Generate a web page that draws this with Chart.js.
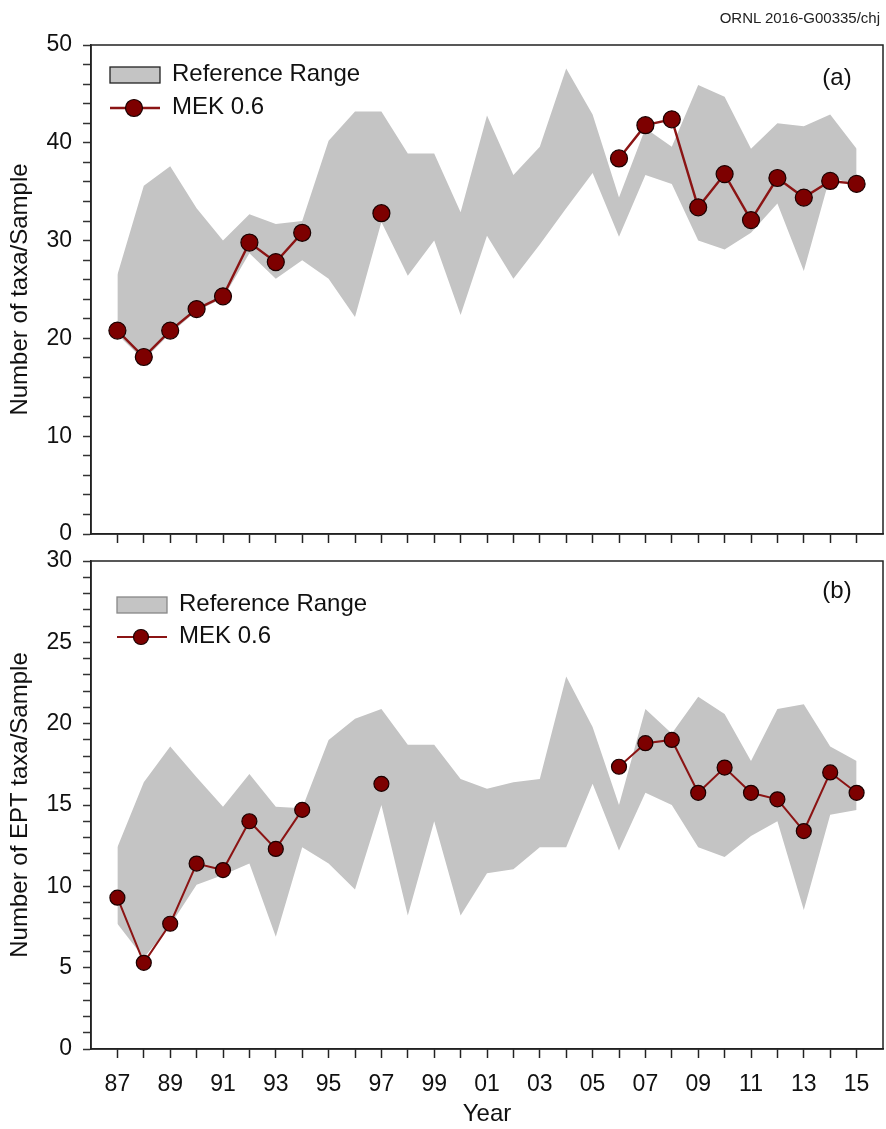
<!DOCTYPE html>
<html>
<head>
<meta charset="utf-8">
<script src="https://cdn.jsdelivr.net/npm/chart.js@4.4.0/dist/chart.umd.min.js"></script>
<style>
  html, body { margin: 0; padding: 0; background: #fff; }
  #wrap { position: relative; width: 886px; height: 1129px; overflow: hidden; }
  #wrap canvas { position: absolute; left: 0; top: 0; }
  #stamp { position: absolute; right: 6px; top: 9px; font: 15px 'Liberation Sans', Arial, sans-serif; color: #222; }
</style>
</head>
<body>
<div id="wrap">
  <canvas id="taxa" width="886" height="1129"></canvas>
  <canvas id="ept" width="886" height="1129"></canvas>
  <div id="stamp">ORNL 2016-G00335/chj</div>
</div>
<script>
Chart.defaults.font.family = "'Liberation Sans', Arial, sans-serif";
Chart.defaults.color = '#111';

// sampling years 1987-2015
var years = [1987, 1988, 1989, 1990, 1991, 1992, 1993, 1994, 1995, 1996,
  1997, 1998, 1999, 2000, 2001, 2002, 2003, 2004, 2005, 2006,
  2007, 2008, 2009, 2010, 2011, 2012, 2013, 2014, 2015];

// (a) number of taxa per sample
var taxaHigh = [26.5, 35.6, 37.6, 33.3, 30.0, 32.7, 31.7, 32.0, 40.2, 43.2,
  43.2, 38.9, 38.9, 32.9, 42.8, 36.7, 39.6, 47.6, 42.9, 34.4,
  41.5, 39.6, 45.9, 44.7, 39.4, 42.0, 41.7, 42.9, 39.4];
var taxaLow = [20.4, 17.8, 20.5, 22.8, 24.1, 28.7, 26.1, 28.0, 26.1, 22.2,
  31.9, 26.4, 30.0, 22.4, 30.5, 26.1, 29.6, 33.3, 36.9, 30.4,
  36.7, 35.8, 30.0, 29.1, 30.8, 33.8, 26.9, 36.6, 35.5];
var taxaMek = [20.8, 18.1, 20.8, 23.0, 24.3, 29.8, 27.8, 30.8, null, null,
  32.8, null, null, null, null, null, null, null, null, 38.4,
  41.8, 42.4, 33.4, 36.8, 32.1, 36.4, 34.4, 36.1, 35.8];

// (b) number of EPT taxa per sample
var eptHigh = [12.4, 16.4, 18.6, 16.7, 14.9, 16.9, 14.9, 14.8, 19.0, 20.3,
  20.9, 18.7, 18.7, 16.6, 16.0, 16.4, 16.6, 22.9, 19.8, 15.0,
  20.9, 19.4, 21.65, 20.6, 17.7, 20.9, 21.2, 18.6, 17.7];
var eptLow = [7.7, 5.6, 7.6, 10.1, 10.7, 11.4, 6.9, 12.4, 11.4, 9.8,
  15.0, 8.2, 14.0, 8.2, 10.8, 11.05, 12.4, 12.4, 16.3, 12.2,
  15.75, 15.0, 12.4, 11.8, 13.1, 14.0, 8.55, 14.4, 14.7];
var eptMek = [9.3, 5.3, 7.7, 11.4, 11.0, 14.0, 12.3, 14.7, null, null,
  16.3, null, null, null, null, null, null, null, null, 17.35,
  18.8, 19.0, 15.75, 17.3, 15.75, 15.35, 13.4, 17.0, 15.75];

// tick labels
var taxaTicks = [0, 10, 20, 30, 40, 50];
var eptTicks = [0, 5, 10, 15, 20, 25, 30];
var yearTicks = [1987, 1989, 1991, 1993, 1995, 1997, 1999, 2001,
  2003, 2005, 2007, 2009, 2011, 2013, 2015];

function pairs(vals){
  return years.map(function(y, i){ return {x: y, y: vals[i]}; });
}

// frame box, legend and panel letter
var panelPlugin = {
  id: 'panel',
  afterDraw: function(chart, args, o){
    var a = chart.chartArea, ctx = chart.ctx;
    var ds = chart.data.datasets;
    ctx.save();
    ctx.strokeStyle = '#222';
    ctx.lineWidth = 1.5;
    ctx.strokeRect(a.left, a.top, a.right - a.left, a.bottom - a.top);

    var lx = a.left + o.x, ly = a.top + o.y;
    ctx.fillStyle = '#c4c4c4';
    ctx.fillRect(lx, ly, 50, 16);
    ctx.strokeStyle = o.boxBorder;
    ctx.lineWidth = 1.3;
    ctx.strokeRect(lx, ly, 50, 16);

    ctx.font = "24px 'Liberation Sans', Arial, sans-serif";
    ctx.fillStyle = '#111';
    ctx.textAlign = 'left';
    ctx.textBaseline = 'middle';
    ctx.fillText(ds[1].label, lx + 62, ly + 7);

    var my = ly + o.gap;
    ctx.strokeStyle = ds[0].borderColor;
    ctx.lineWidth = o.lineW;
    ctx.beginPath();
    ctx.moveTo(lx, my);
    ctx.lineTo(lx + 50, my);
    ctx.stroke();
    ctx.beginPath();
    ctx.arc(lx + 24, my, o.r, 0, Math.PI * 2);
    ctx.fillStyle = ds[0].pointBackgroundColor;
    ctx.fill();
    ctx.strokeStyle = ds[0].pointBorderColor;
    ctx.lineWidth = 1.2;
    ctx.stroke();
    ctx.fillStyle = '#111';
    ctx.fillText(ds[0].label, lx + 62, my - 1);

    ctx.textAlign = 'center';
    ctx.fillText(o.letter, a.right - 46, a.top + o.letterY);
    ctx.restore();
  }
};

function hideEnds(c){
  return (c.tick && (c.tick.value === 1986 || c.tick.value === 2016)) ? 'rgba(0,0,0,0)' : '#222';
}

function drawPanel(id, high, low, mek, yMax, yStep, yLabels, yTitle, bottomAxis, o){
  var xHeight = bottomAxis ? 80 : 12;
  var plotTop = bottomAxis ? 561 : 45;
  var plotBottom = bottomAxis ? 1049 : 534;
  return new Chart(document.getElementById(id), {
    type: 'line',
    data: {
      datasets: [
        {
          label: 'MEK 0.6',
          data: pairs(mek),
          borderColor: '#8b1414',
          borderWidth: o.lineW,
          pointRadius: o.r,
          pointBackgroundColor: '#7d0000',
          pointBorderColor: '#1a0000',
          pointBorderWidth: 1.2,
          spanGaps: false,
          fill: false,
          tension: 0
        },
        {
          label: 'Reference Range',
          data: pairs(high),
          borderColor: 'rgba(0,0,0,0)',
          borderWidth: 0,
          pointRadius: 0,
          backgroundColor: '#c4c4c4',
          fill: '+1',
          tension: 0
        },
        {
          label: 'low',
          data: pairs(low),
          borderColor: 'rgba(0,0,0,0)',
          borderWidth: 0,
          pointRadius: 0,
          fill: false,
          tension: 0
        }
      ]
    },
    options: {
      responsive: false,
      animation: false,
      events: [],
      layout: {
        autoPadding: false,
        padding: {top: plotTop, left: 0, right: 3, bottom: 1129 - plotBottom - xHeight}
      },
      plugins: {
        legend: {display: false},
        tooltip: {enabled: false},
        panel: o
      },
      scales: {
        x: {
          type: 'linear',
          min: 1986,
          max: 2016,
          afterFit: function(s){ s.height = xHeight; s.paddingLeft = 0; s.paddingRight = 0; },
          border: {color: '#222', width: 1.5},
          grid: {drawOnChartArea: false, drawTicks: true, tickLength: 9, tickWidth: 1.5, tickColor: hideEnds},
          ticks: {
            stepSize: 1,
            autoSkip: false,
            maxRotation: 0,
            padding: 13,
            color: '#111',
            font: {size: 23},
            callback: function(v){
              if (!bottomAxis) return '';
              return yearTicks.indexOf(v) >= 0 ? String(v).slice(2) : '';
            }
          },
          title: {
            display: bottomAxis,
            text: 'Year',
            color: '#111',
            font: {size: 24},
            padding: {top: 0, bottom: 0}
          }
        },
        y: {
          min: 0,
          max: yMax,
          afterFit: function(s){ s.width = 91; s.paddingTop = 0; s.paddingBottom = 0; },
          border: {color: '#222', width: 1.5},
          grid: {drawOnChartArea: false, drawTicks: true, tickLength: 8, tickWidth: 1.5, tickColor: '#333'},
          ticks: {
            stepSize: yStep,
            autoSkip: false,
            padding: 11,
            color: '#111',
            font: {size: 23},
            callback: function(v){ return yLabels.indexOf(v) >= 0 ? v : ''; }
          },
          title: {
            display: true,
            text: yTitle,
            color: '#111',
            font: {size: 24},
            padding: {top: 6, bottom: 0}
          }
        }
      }
    },
    plugins: [panelPlugin]
  });
}

drawPanel('taxa', taxaHigh, taxaLow, taxaMek, 50, 2, taxaTicks, 'Number of taxa/Sample', false,
  {x: 19, y: 22, gap: 41, r: 8.5, lineW: 2.4, boxBorder: '#222', letter: '(a)', letterY: 33});
drawPanel('ept', eptHigh, eptLow, eptMek, 30, 1, eptTicks, 'Number of EPT taxa/Sample', true,
  {x: 26, y: 36, gap: 40, r: 7.5, lineW: 2, boxBorder: '#888', letter: '(b)', letterY: 30});
</script>
</body>
</html>
